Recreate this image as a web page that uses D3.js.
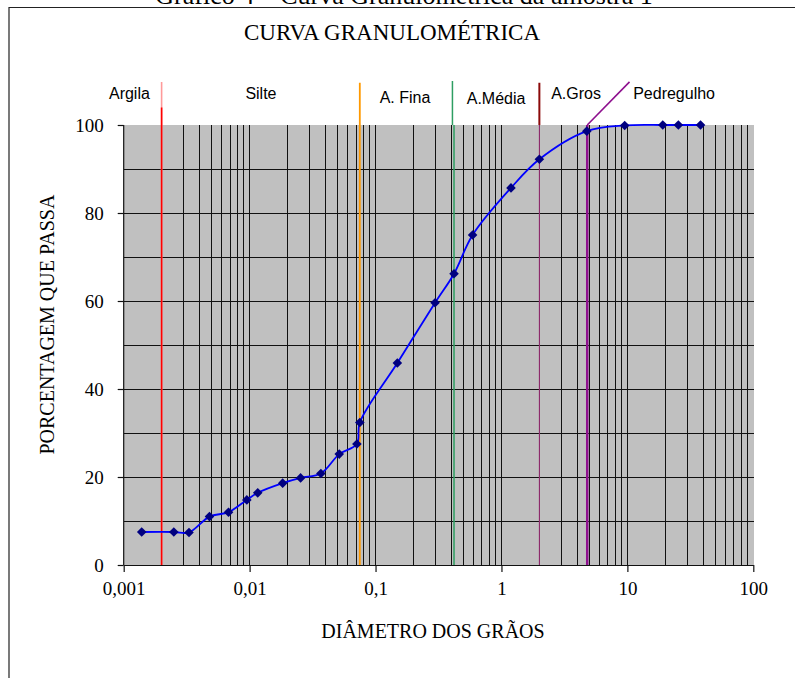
<!DOCTYPE html>
<html>
<head>
<meta charset="utf-8">
<script src="https://cdn.jsdelivr.net/npm/d3@7"></script>
<style>
  html, body { margin: 0; padding: 0; background: #fff; }
  svg { display: block; }
</style>
</head>
<body>
<svg id="chart" width="795" height="678"></svg>
<script>
// ---- DATA ----
const diameters = [0.00139, 0.0025, 0.0033, 0.0048, 0.0068, 0.0095, 0.0116, 0.0183, 0.0254, 0.0368, 0.0515, 0.0711, 0.075,
                   0.149, 0.297, 0.42, 0.59, 1.19, 2.0, 4.76, 9.52, 19.1, 25.4, 38.1];
const passing   = [7.5, 7.5, 7.4, 11.0, 12.0, 14.8, 16.4, 18.6, 19.8, 20.8, 25.2, 27.5, 32.4,
                   45.9, 59.6, 66.2, 75.0, 85.7, 92.2, 98.6, 99.9, 100, 100, 100];
const xTickValues = [0.001, 0.01, 0.1, 1, 10, 100];
const xTickLabels = ["0,001", "0,01", "0,1", "1", "10", "100"];
const yTickValues = [0, 20, 40, 60, 80, 100];
const zoneNames = ["Argila", "Silte", "A. Fina", "A.Média", "A.Gros", "Pedregulho"];
const zoneBoundaries = [0.002, 0.075, 0.42, 2.0, 4.8];
const caption = "Gráfico 4 – Curva Granulométrica da amostra 1";
const title = "CURVA GRANULOMÉTRICA";
const xTitle = "DIÂMETRO DOS GRÃOS";
const yTitle = "PORCENTAGEM QUE PASSA";

// ---- LAYOUT ----
const serif = "'Liberation Serif','Times New Roman',Times,serif";
const sans = "'Liberation Sans',Arial,Helvetica,sans-serif";
const svg = d3.select("#chart");
const x = d3.scaleLog().domain([0.001, 100]).range([123.7, 753.3]);
const y = d3.scaleLinear().domain([0, 100]).range([565, 125]);

// outer frame (left and top)
svg.append("path").attr("d", "M9,678 V7.5 H795")
  .attr("fill", "none").attr("stroke", "#222").attr("stroke-width", 1.2);

// caption clipped at top (as in the reference)
svg.append("text").attr("x", 404).attr("y", 3.5).attr("text-anchor", "middle")
  .attr("font-family", serif).attr("font-size", 26).attr("fill", "#000").text(caption);

// chart title
svg.append("text").attr("x", 392).attr("y", 39.5).attr("text-anchor", "middle")
  .attr("font-family", serif).attr("font-size", 23).attr("fill", "#000").text(title);

// plot area
svg.append("rect").attr("x", x(0.001)).attr("y", y(100))
  .attr("width", 754 - x(0.001)).attr("height", y(0) - y(100)).attr("fill", "#C0C0C0");

// grid
const grid = svg.append("g").attr("stroke", "#111").attr("stroke-width", 1).attr("shape-rendering", "crispEdges");
const vgrid = [];
for (let e = -3; e <= 1; e++) for (let k = 1; k <= 9; k++) vgrid.push(k * Math.pow(10, e));
grid.selectAll("line.v").data(vgrid.filter(d => d > 0.001)).join("line").attr("class", "v")
  .attr("x1", d => x(d)).attr("x2", d => x(d)).attr("y1", y(100)).attr("y2", y(0));
grid.selectAll("line.h").data(d3.range(10, 100, 10)).join("line").attr("class", "h")
  .attr("x1", x(0.001)).attr("x2", 754).attr("y1", d => y(d)).attr("y2", d => y(d));

// zone boundary lines
const topY = y(109.8);
svg.append("line").attr("x1", x(zoneBoundaries[0])).attr("x2", x(zoneBoundaries[0]))
  .attr("y1", topY).attr("y2", y(0)).attr("stroke", "#FF9A9A").attr("stroke-width", 1.6);
svg.append("line").attr("x1", x(zoneBoundaries[0])).attr("x2", x(zoneBoundaries[0]))
  .attr("y1", y(104)).attr("y2", y(0)).attr("stroke", "#FF0000").attr("stroke-width", 1.6);
svg.append("line").attr("x1", x(zoneBoundaries[1])).attr("x2", x(zoneBoundaries[1]))
  .attr("y1", y(109.6)).attr("y2", y(0)).attr("stroke", "#FF9900").attr("stroke-width", 1.8);
svg.append("line").attr("x1", x(0.408)).attr("x2", x(0.408))
  .attr("y1", y(110)).attr("y2", y(100)).attr("stroke", "#2E9E62").attr("stroke-width", 1.5);
svg.append("line").attr("x1", x(zoneBoundaries[2])).attr("x2", x(zoneBoundaries[2]))
  .attr("y1", y(100)).attr("y2", y(0)).attr("stroke", "#2E9E62").attr("stroke-width", 1.5);
svg.append("line").attr("x1", x(zoneBoundaries[3])).attr("x2", x(zoneBoundaries[3]))
  .attr("y1", y(109.6)).attr("y2", y(100)).attr("stroke", "#8B0A0A").attr("stroke-width", 2);
svg.append("line").attr("x1", x(zoneBoundaries[3])).attr("x2", x(zoneBoundaries[3]))
  .attr("y1", y(100)).attr("y2", y(0)).attr("stroke", "#A0307A").attr("stroke-width", 1);
svg.append("line").attr("x1", x(zoneBoundaries[4])).attr("x2", x(zoneBoundaries[4]))
  .attr("y1", y(100)).attr("y2", y(0)).attr("stroke", "#8E108E").attr("stroke-width", 2.5);
svg.append("line").attr("x1", x(zoneBoundaries[4])).attr("x2", x(10.4))
  .attr("y1", y(100)).attr("y2", y(109.8)).attr("stroke", "#8E108E").attr("stroke-width", 1.6);

// zone labels (anchored at diameter values)
const zoneLabelAt = [0.00111, 0.0123, 0.1715, 0.906, 3.91, 23.5];
const zoneLabelPct = [105.9, 105.9, 104.9, 104.7, 105.9, 105.9];
svg.append("g").selectAll("text").data(zoneNames).join("text")
  .attr("x", (d, i) => x(zoneLabelAt[i])).attr("y", (d, i) => y(zoneLabelPct[i]))
  .attr("text-anchor", "middle").attr("font-family", sans).attr("font-size", 16)
  .attr("fill", "#000").text(d => d);

// axes
const yAxis = svg.append("g").attr("transform", `translate(${x(0.001)},0)`)
  .call(d3.axisLeft(y).tickValues(yTickValues).tickSize(6).tickSizeOuter(0).tickPadding(14));
const xAxis = svg.append("g").attr("transform", `translate(0,${y(0)})`)
  .call(d3.axisBottom(x).tickValues(xTickValues).tickSize(7).tickSizeOuter(0).tickPadding(9.5)
    .tickFormat((d, i) => xTickLabels[i]));
[yAxis, xAxis].forEach(g => {
  g.selectAll("path,line").attr("stroke", "#111").attr("stroke-width", 1.2);
  g.selectAll("text").attr("font-family", serif).attr("font-size", 19).attr("fill", "#000");
});
yAxis.select("path.domain").attr("d", `M0,${y(100)}V${y(0)}`);

// axis titles
svg.append("text").attr("x", 433).attr("y", 638).attr("text-anchor", "middle")
  .attr("font-family", serif).attr("font-size", 20).attr("fill", "#000").text(xTitle);
svg.append("text").attr("transform", "translate(54,324.6) rotate(-90)").attr("text-anchor", "middle")
  .attr("font-family", serif).attr("font-size", 20).attr("fill", "#000").text(yTitle);

// curve
const pts = diameters.map((d, i) => [d, passing[i]]);
const line = d3.line().x(d => x(d[0])).y(d => y(d[1])).curve(d3.curveCatmullRom.alpha(0.5));
svg.append("path").datum(pts).attr("d", line)
  .attr("fill", "none").attr("stroke", "#0000FF").attr("stroke-width", 1.8);
const sym = d3.symbol(d3.symbolSquare, 46);
svg.append("g").selectAll("path").data(pts).join("path")
  .attr("d", sym)
  .attr("transform", d => `translate(${x(d[0])},${y(d[1])}) rotate(45)`)
  .attr("fill", "#000080");
</script>
</body>
</html>
